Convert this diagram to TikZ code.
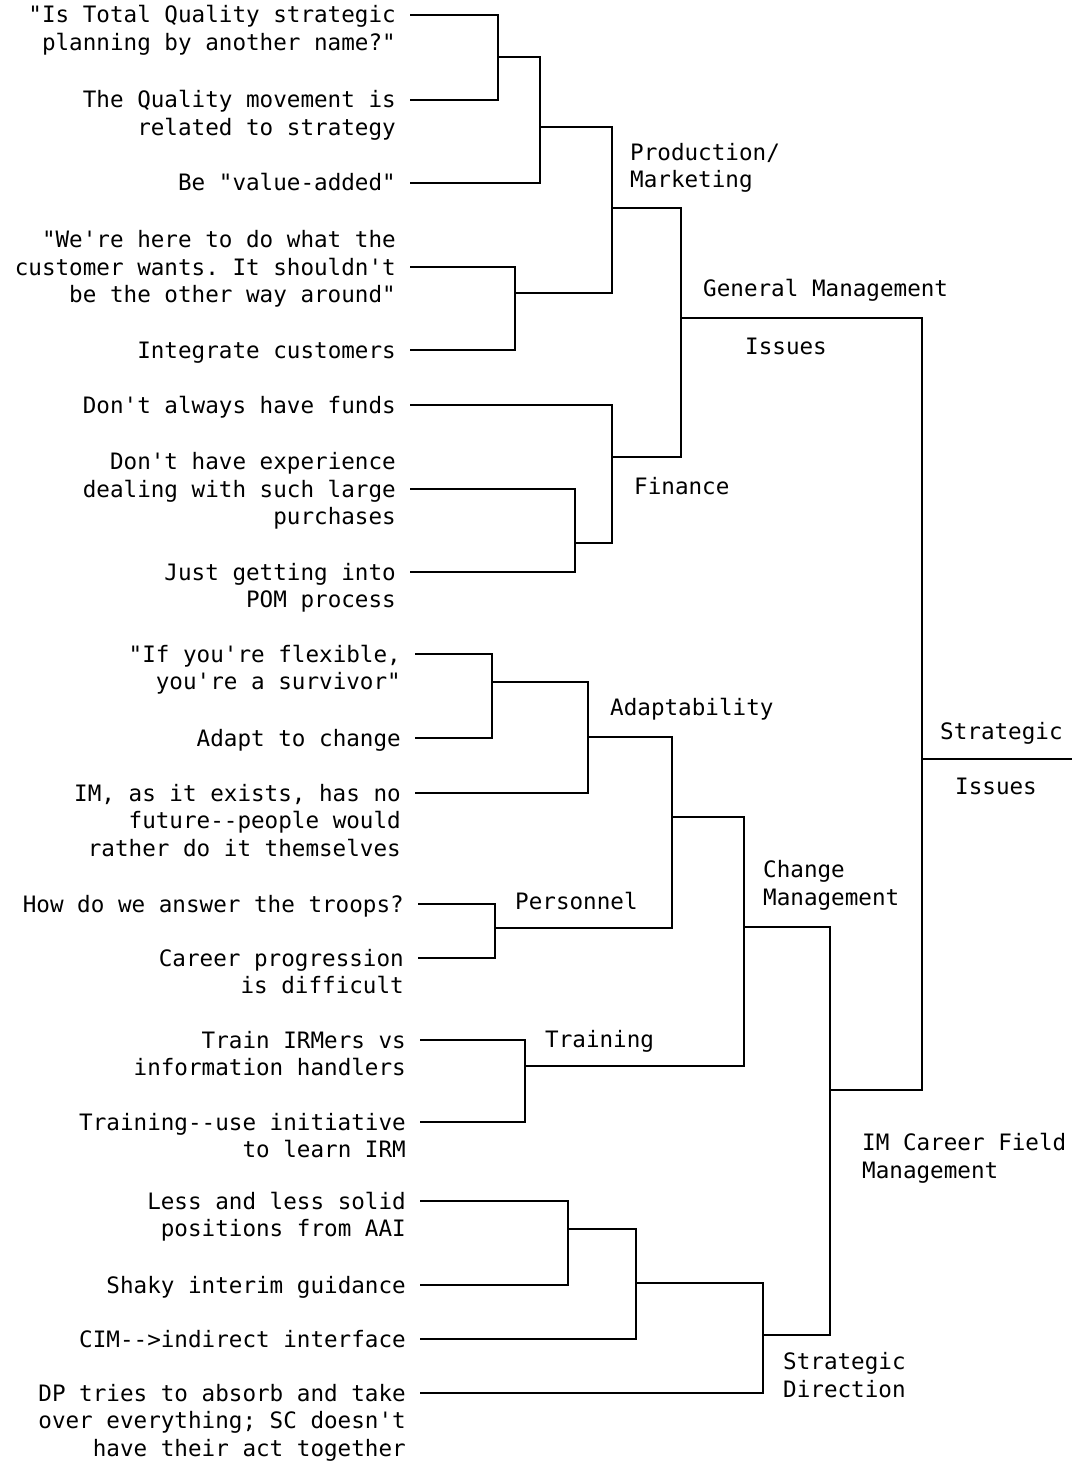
\documentclass[tikz,border=0pt]{standalone}
\usepackage{fontspec}
\setmonofont{DejaVu Sans Mono}
\usetikzlibrary{calc}
\tikzset{
  leaf/.style={font=\fontsize{22.6}{27.6}\selectfont\ttfamily, align=right,
    inner sep=0pt, anchor=base east},
  grp/.style={font=\fontsize{22.6}{27.6}\selectfont\ttfamily, align=left,
    inner sep=0pt, anchor=base west},
  link/.style={line width=1.8pt},
}
\begin{document}
\begin{tikzpicture}[x=1pt, y=-1pt]
\useasboundingbox (0,0) rectangle (1072,1466);

% leaf tips
\coordinate (t1) at (410,15);
\coordinate (t2) at (410,100);
\coordinate (t3) at (410,183);
\coordinate (t4) at (410,267);
\coordinate (t5) at (410,350);
\coordinate (t6) at (410,405);
\coordinate (t7) at (410,489);
\coordinate (t8) at (410,572);
\coordinate (t9) at (415,654);
\coordinate (t10) at (415,738);
\coordinate (t11) at (415,793);
\coordinate (t12) at (418,904);
\coordinate (t13) at (418,958);
\coordinate (t14) at (420,1040);
\coordinate (t15) at (420,1122);
\coordinate (t16) at (420,1201);
\coordinate (t17) at (420,1285);
\coordinate (t18) at (420,1339);
\coordinate (t19) at (420,1393);

% joins
\coordinate (a1) at (498,57);
\coordinate (a2) at (540,127);
\coordinate (a3) at (515,293);
\coordinate (pm) at (612,208);
\coordinate (a4) at (575,543);
\coordinate (fin) at (612,457);
\coordinate (gm) at (681,318);
\coordinate (b1) at (492,682);
\coordinate (ad) at (588,737);
\coordinate (per) at (495,928);
\coordinate (cm) at (672,817);
\coordinate (tr) at (525,1066);
\coordinate (chg) at (744,927);
\coordinate (c1) at (568,1229);
\coordinate (c2) at (636,1283);
\coordinate (sd) at (763,1335);
\coordinate (im) at (830,1090);
\coordinate (si) at (922,759);
\coordinate (root) at (1072,759);

% base anchor sits on the last line, so shift by the lines below the tip
\node[leaf] (l1) at ($(t1)+(-14,35.6)$) {"Is Total Quality strategic\\planning by another name?"};
\node[leaf] (l2) at ($(t2)+(-14,35.6)$) {The Quality movement is\\related to strategy};
\node[leaf] (l3) at ($(t3)+(-14,8)$) {Be "value-added"};
\node[leaf] (l4) at ($(t4)+(-14,35.6)$) {"We're here to do what the\\customer wants. It shouldn't\\be the other way around"};
\node[leaf] (l5) at ($(t5)+(-14,8)$) {Integrate customers};
\node[leaf] (l6) at ($(t6)+(-14,8)$) {Don't always have funds};
\node[leaf] (l7) at ($(t7)+(-14,35.6)$) {Don't have experience\\dealing with such large\\purchases};
\node[leaf] (l8) at ($(t8)+(-14,35.6)$) {Just getting into\\POM process};
\node[leaf] (l9) at ($(t9)+(-14,35.6)$) {"If you're flexible,\\you're a survivor"};
\node[leaf] (l10) at ($(t10)+(-14,8)$) {Adapt to change};
\node[leaf] (l11) at ($(t11)+(-14,63.2)$) {IM, as it exists, has no\\future--people would\\rather do it themselves};
\node[leaf] (l12) at ($(t12)+(-14,8)$) {How do we answer the troops?};
\node[leaf] (l13) at ($(t13)+(-14,35.6)$) {Career progression\\is difficult};
\node[leaf] (l14) at ($(t14)+(-14,35.6)$) {Train IRMers vs\\information handlers};
\node[leaf] (l15) at ($(t15)+(-14,35.6)$) {Training--use initiative\\to learn IRM};
\node[leaf] (l16) at ($(t16)+(-14,35.6)$) {Less and less solid\\positions from AAI};
\node[leaf] (l17) at ($(t17)+(-14,8)$) {Shaky interim guidance};
\node[leaf] (l18) at ($(t18)+(-14,8)$) {CIM-->indirect interface};
\node[leaf] (l19) at ($(t19)+(-14,63.2)$) {DP tries to absorb and take\\over everything; SC doesn't\\have their act together};

\draw[link] (t1) -| (a1) |- (t2);
\draw[link] (a1) -| (a2) |- (t3);
\draw[link] (t4) -| (a3) |- (t5);
\draw[link] (a2) -| (pm) |- (a3);
\draw[link] (t7) -| (a4) |- (t8);
\draw[link] (t6) -| (fin) |- (a4);
\draw[link] (pm) -| (gm) |- (fin);
\draw[link] (t9) -| (b1) |- (t10);
\draw[link] (b1) -| (ad) |- (t11);
\draw[link] (t12) -| (per) |- (t13);
\draw[link] (ad) -| (cm) |- (per);
\draw[link] (t14) -| (tr) |- (t15);
\draw[link] (cm) -| (chg) |- (tr);
\draw[link] (t16) -| (c1) |- (t17);
\draw[link] (c1) -| (c2) |- (t18);
\draw[link] (c2) -| (sd) |- (t19);
\draw[link] (chg) -| (im) |- (sd);
\draw[link] (gm) -| (si) |- (im);
\draw[link] (si) -- (root);

% cluster names
\node[grp] (lpm) at (630,188) {Production/\\Marketing};
\node[grp] (lgm) at (703,296) {General Management};
\node[grp] (lgi) at (745,354) {Issues};
\node[grp] (lfin) at (634,494) {Finance};
\node[grp] (lad) at (610,715) {Adaptability};
\node[grp] (lper) at (515,909) {Personnel};
\node[grp] (lchg) at (763,905) {Change\\Management};
\node[grp] (ltr) at (545,1047) {Training};
\node[grp] (lim) at (862,1178) {IM Career Field\\Management};
\node[grp] (lsd) at (783,1397) {Strategic\\Direction};
\node[grp] (lsi) at (940,739) {Strategic};
\node[grp] (lsii) at (955,794) {Issues};
\end{tikzpicture}
\end{document}
